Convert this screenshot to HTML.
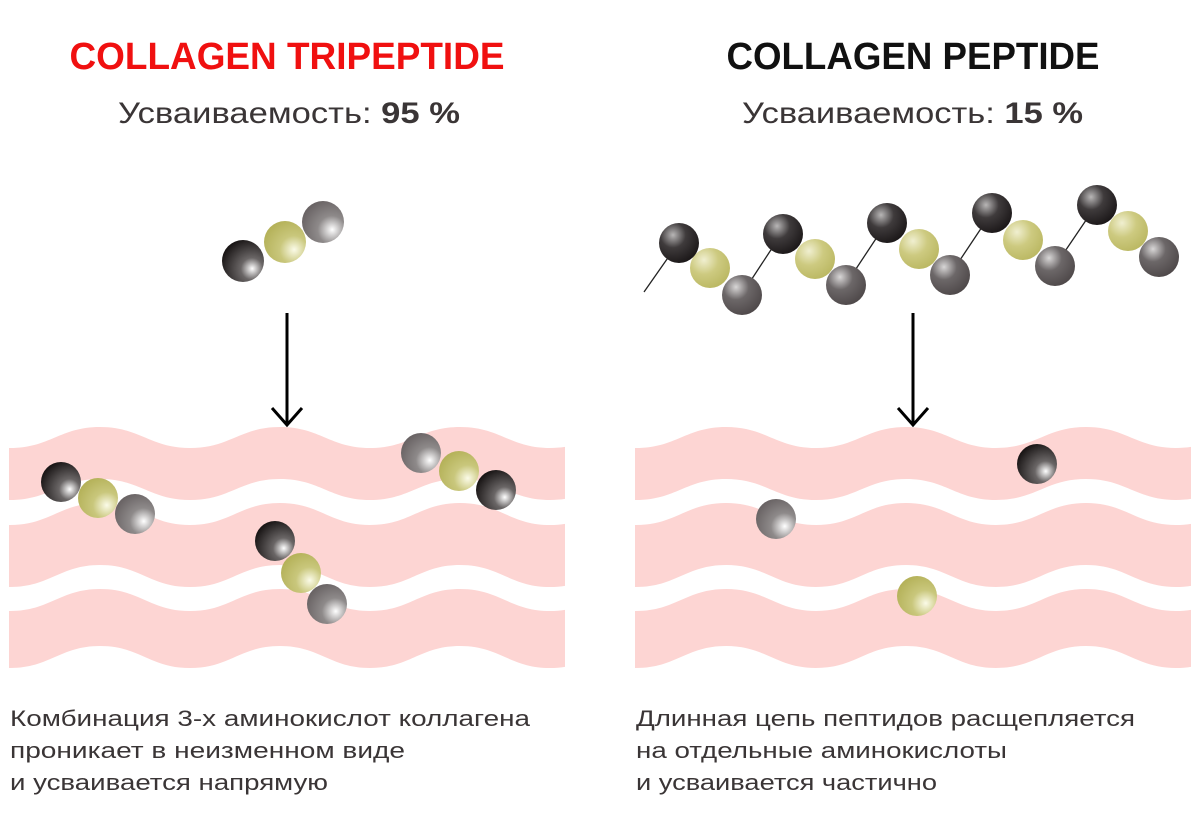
<!DOCTYPE html>
<html><head><meta charset="utf-8"><style>
html,body{margin:0;padding:0;background:#fff;}
svg{display:block;}
text{font-family:"Liberation Sans",sans-serif;}
</style></head><body>
<svg width="1200" height="827" viewBox="0 0 1200 827" xmlns="http://www.w3.org/2000/svg">
<defs>
<radialGradient id="gk" cx="0.7" cy="0.7" r="0.75" fx="0.72" fy="0.68"><stop offset="0" stop-color="#ffffff"/><stop offset="0.35" stop-color="#6a6666"/><stop offset="1" stop-color="#1a1616"/></radialGradient>
<radialGradient id="gg" cx="0.7" cy="0.7" r="0.75" fx="0.72" fy="0.68"><stop offset="0" stop-color="#ffffff"/><stop offset="0.45" stop-color="#8e8a8a"/><stop offset="1" stop-color="#6a6465"/></radialGradient>
<radialGradient id="gy" cx="0.7" cy="0.7" r="0.75" fx="0.72" fy="0.68"><stop offset="0" stop-color="#fbfbe8"/><stop offset="0.45" stop-color="#c9c77c"/><stop offset="1" stop-color="#b5b25a"/></radialGradient>
<radialGradient id="ck" cx="0.35" cy="0.3" r="0.8"><stop offset="0" stop-color="#b8b6b6"/><stop offset="0.4" stop-color="#3f3b3c"/><stop offset="1" stop-color="#161213"/></radialGradient>
<radialGradient id="cg" cx="0.35" cy="0.3" r="0.8"><stop offset="0" stop-color="#d8d6d6"/><stop offset="0.4" stop-color="#6c6768"/><stop offset="1" stop-color="#4a4445"/></radialGradient>
<radialGradient id="cy" cx="0.35" cy="0.3" r="0.8"><stop offset="0" stop-color="#f0efd0"/><stop offset="0.45" stop-color="#cdca80"/><stop offset="1" stop-color="#b8b55e"/></radialGradient>
<clipPath id="cl"><rect x="9" y="400" width="556" height="300"/></clipPath>
<g id="bands" fill="#fdd5d3">
<path d="M-80,427 C-50,427 -30,448 10,448 C50,448 60,427 100,427 C140,427 150,448 190,448 C230,448 240,427 280,427 C320,427 330,448 370,448 C410,448 420,427 460,427 C500,427 510,448 550,448 C590,448 600,427 640,427 L640,479 C600,479 590,500 550,500 C510,500 500,479 460,479 C420,479 410,500 370,500 C330,500 320,479 280,479 C240,479 230,500 190,500 C150,500 140,479 100,479 C60,479 50,500 10,500 C-30,500 -50,479 -80,479 Z"/>
<path d="M-80,503 C-50,503 -30,525 10,525 C50,525 60,503 100,503 C140,503 150,525 190,525 C230,525 240,503 280,503 C320,503 330,525 370,525 C410,525 420,503 460,503 C500,503 510,525 550,525 C590,525 600,503 640,503 L640,565 C600,565 590,587 550,587 C510,587 500,565 460,565 C420,565 410,587 370,587 C330,587 320,565 280,565 C240,565 230,587 190,587 C150,587 140,565 100,565 C60,565 50,587 10,587 C-30,587 -50,565 -80,565 Z"/>
<path d="M-80,589 C-50,589 -30,611 10,611 C50,611 60,589 100,589 C140,589 150,611 190,611 C230,611 240,589 280,589 C320,589 330,611 370,611 C410,611 420,589 460,589 C500,589 510,611 550,611 C590,611 600,589 640,589 L640,646 C600,646 590,668 550,668 C510,668 500,646 460,646 C420,646 410,668 370,668 C330,668 320,646 280,646 C240,646 230,668 190,668 C150,668 140,646 100,646 C60,646 50,668 10,668 C-30,668 -50,646 -80,646 Z"/>
</g>
</defs>

<g clip-path="url(#cl)"><use href="#bands"/></g>
<g transform="translate(626,0)" clip-path="url(#cl)"><use href="#bands"/></g>

<text x="287" y="69" text-anchor="middle" font-size="38" font-weight="bold" fill="#f01010" textLength="435" lengthAdjust="spacingAndGlyphs">COLLAGEN TRIPEPTIDE</text>
<text x="913" y="69" text-anchor="middle" font-size="38" font-weight="bold" fill="#111" textLength="373" lengthAdjust="spacingAndGlyphs">COLLAGEN PEPTIDE</text>
<text x="118" y="123" font-size="30" fill="#3a3536" textLength="342" lengthAdjust="spacingAndGlyphs">Усваиваемость: <tspan font-weight="bold">95 %</tspan></text>
<text x="742" y="123" font-size="30" fill="#3a3536" textLength="341" lengthAdjust="spacingAndGlyphs">Усваиваемость: <tspan font-weight="bold">15 %</tspan></text>

<!-- arrows -->
<g stroke="#000" stroke-width="3" fill="none">
<line x1="287" y1="313" x2="287" y2="424"/><polyline points="272,408 287,425 302,408"/>
<line x1="913" y1="313" x2="913" y2="424"/><polyline points="898,408 913,425 928,408"/>
</g>

<!-- left top molecule -->
<circle cx="323" cy="222" r="21" fill="url(#gg)"/>
<circle cx="285" cy="242" r="21" fill="url(#gy)"/>
<circle cx="243" cy="261" r="21" fill="url(#gk)"/>

<!-- band molecules left -->
<circle cx="135" cy="514" r="20" fill="url(#gg)"/>
<circle cx="98" cy="498" r="20" fill="url(#gy)"/>
<circle cx="61" cy="482" r="20" fill="url(#gk)"/>

<circle cx="327" cy="604" r="20" fill="url(#gg)"/>
<circle cx="301" cy="573" r="20" fill="url(#gy)"/>
<circle cx="275" cy="541" r="20" fill="url(#gk)"/>

<circle cx="421" cy="453" r="20" fill="url(#gg)"/>
<circle cx="459" cy="471" r="20" fill="url(#gy)"/>
<circle cx="496" cy="490" r="20" fill="url(#gk)"/>

<!-- right chain -->
<g stroke="#222" stroke-width="1.3">
<line x1="644" y1="292" x2="679" y2="242"/>
<line x1="742" y1="294" x2="782" y2="233"/>
<line x1="846" y1="284" x2="887" y2="222"/>
<line x1="950" y1="275" x2="992" y2="212"/>
<line x1="1055" y1="266" x2="1097" y2="204"/>
</g>
<g>
<circle cx="710" cy="268" r="20" fill="url(#cy)"/>
<circle cx="679" cy="243" r="20" fill="url(#ck)"/>
<circle cx="742" cy="295" r="20" fill="url(#cg)"/>
<circle cx="815" cy="259" r="20" fill="url(#cy)"/>
<circle cx="783" cy="234" r="20" fill="url(#ck)"/>
<circle cx="846" cy="285" r="20" fill="url(#cg)"/>
<circle cx="919" cy="249" r="20" fill="url(#cy)"/>
<circle cx="887" cy="223" r="20" fill="url(#ck)"/>
<circle cx="950" cy="275" r="20" fill="url(#cg)"/>
<circle cx="1023" cy="240" r="20" fill="url(#cy)"/>
<circle cx="992" cy="213" r="20" fill="url(#ck)"/>
<circle cx="1055" cy="266" r="20" fill="url(#cg)"/>
<circle cx="1128" cy="231" r="20" fill="url(#cy)"/>
<circle cx="1097" cy="205" r="20" fill="url(#ck)"/>
<circle cx="1159" cy="257" r="20" fill="url(#cg)"/>
</g>

<!-- right band singles -->
<circle cx="1037" cy="464" r="20" fill="url(#gk)"/>
<circle cx="776" cy="519" r="20" fill="url(#gg)"/>
<circle cx="917" cy="596" r="20" fill="url(#gy)"/>

<!-- bottom texts -->
<g font-size="22" fill="#3a3536">
<text x="10" y="726" textLength="520" lengthAdjust="spacingAndGlyphs">Комбинация 3-х аминокислот коллагена</text>
<text x="10" y="758" textLength="395" lengthAdjust="spacingAndGlyphs">проникает в неизменном виде</text>
<text x="10" y="790" textLength="318" lengthAdjust="spacingAndGlyphs">и усваивается напрямую</text>
<text x="636" y="726" textLength="499" lengthAdjust="spacingAndGlyphs">Длинная цепь пептидов расщепляется</text>
<text x="636" y="758" textLength="371" lengthAdjust="spacingAndGlyphs">на отдельные аминокислоты</text>
<text x="636" y="790" textLength="301" lengthAdjust="spacingAndGlyphs">и усваивается частично</text>
</g>
</svg>
</body></html>
